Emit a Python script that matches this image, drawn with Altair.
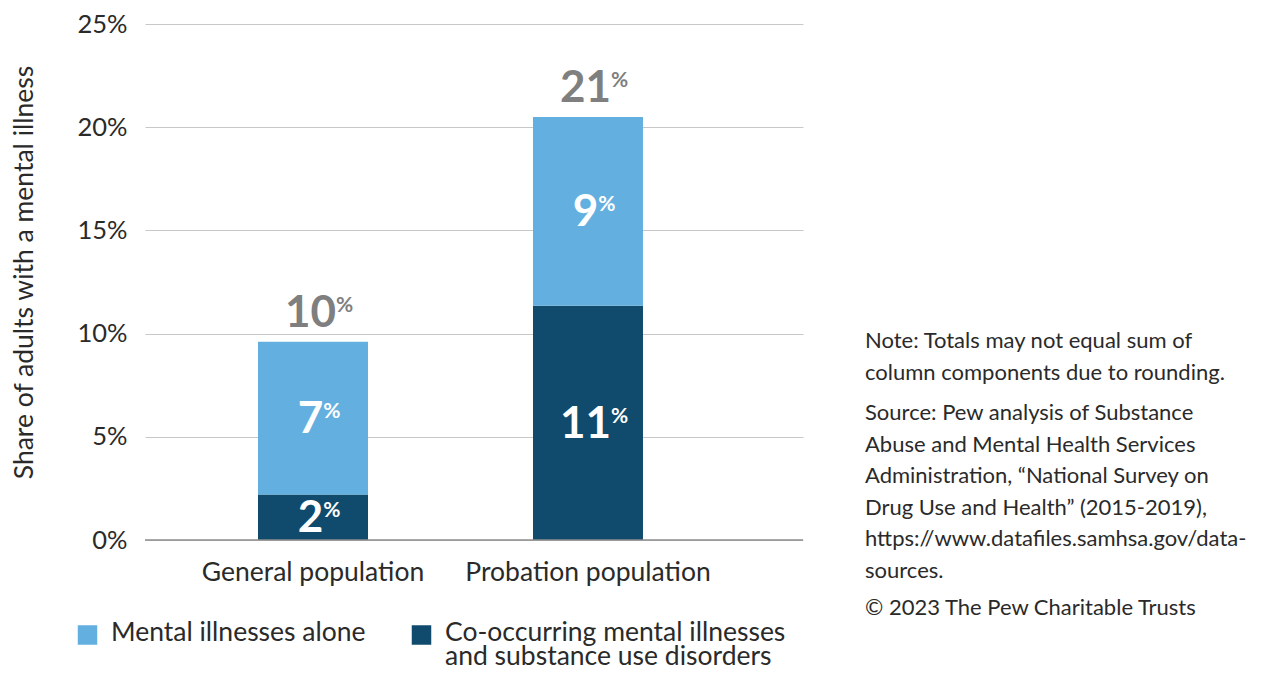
import altair as alt
import pandas as pd

# ---------------- data ----------------
categories = ["General population", "Probation population"]
series_names = ["Co-occurring mental illnesses and substance use disorders", "Mental illnesses alone"]
co_occurring = [2.2, 11.35]
alone_vals = [7.4, 9.15]
co_labels = ["2", "11"]
alone_labels = ["7", "9"]
total_labels = ["10", "21"]
series_colors = ["#104A6C", "#63AFE0"]
y_ticks = [0, 5, 10, 15, 20, 25]
y_title = "Share of adults with a mental illness"

legend_lines = [["Mental illnesses alone"],
                ["Co-occurring mental illnesses", "and substance use disorders"]]
note_par1 = ["Note: Totals may not equal sum of", "column components due to rounding."]
note_par2 = ["Source: Pew analysis of Substance", "Abuse and Mental Health Services",
             "Administration, \u201cNational Survey on", "Drug Use and Health\u201d (2015-2019),",
             "https://www.datafiles.samhsa.gov/data-", "sources."]
note_par3 = ["\u00a9 2023 The Pew Charitable Trusts"]

rows = []
for i, cat in enumerate(categories):
    rows.append({"category": cat, "series": series_names[0], "value": co_occurring[i],
                 "order": 0, "label": co_labels[i], "total_label": total_labels[i]})
    rows.append({"category": cat, "series": series_names[1], "value": alone_vals[i],
                 "order": 1, "label": alone_labels[i], "total_label": total_labels[i]})
df = pd.DataFrame(rows)

W, H = 658, 516
FONT = "Lato"
NUM_SIZE = 44
PCT_SIZE = 21
DIGIT_W = 0.58 * NUM_SIZE
PCT_W = 15

x_scale = alt.Scale(domain=categories, paddingInner=0.6, paddingOuter=0.4964, align=0.4139)
y_scale = alt.Scale(domain=[0, 25], nice=False)


def xenc():
    return alt.X("category:N", sort=categories, scale=x_scale, title=None)


def yenc(field):
    return alt.Y(field, scale=y_scale, title=y_title,
                 axis=alt.Axis(values=y_ticks, labelExpr="datum.value + '%'"))


base = alt.Chart(df)

bars = base.mark_bar().encode(
    x=xenc(),
    y=alt.Y("value:Q", stack="zero", scale=y_scale, title=y_title,
            axis=alt.Axis(values=y_ticks, labelExpr="datum.value + '%'")),
    color=alt.Color("series:N", scale=alt.Scale(domain=series_names, range=series_colors), legend=None),
    order=alt.Order("order:Q"),
)

baseline = alt.Chart(pd.DataFrame({"v": [0]})).mark_rule(color="#8c8c8c", strokeWidth=1.3).encode(
    y=alt.Y("v:Q", scale=y_scale, title=y_title,
            axis=alt.Axis(values=y_ticks, labelExpr="datum.value + '%'")),
    x=alt.value(0), x2=alt.value(W),
)

stacked = base.transform_stack(
    stack="value", groupby=["category"], as_=["y0", "y1"], sort=[alt.SortField("order")]
).transform_calculate(mid="(datum.y0 + datum.y1) / 2")

totals = base.transform_aggregate(
    total="sum(value)", groupby=["category", "total_label"]
)

layers = [bars, baseline]
for n in (1, 2):
    num_adv = DIGIT_W * n
    start = -(num_adv + PCT_W) / 2 + 5
    # segment labels (white)
    seg = stacked.transform_filter(f"length(datum.label) == {n}")
    layers.append(seg.mark_text(align="left", baseline="alphabetic", dx=start, dy=15,
                                font=FONT, fontWeight="bold", fontSize=NUM_SIZE, color="white").encode(
        x=xenc(), y=yenc("mid:Q"), text="label:N"))
    layers.append(seg.mark_text(align="left", baseline="alphabetic", dx=start + num_adv, dy=0,
                                font=FONT, fontWeight="bold", fontSize=PCT_SIZE, color="white", text="%").encode(
        x=xenc(), y=yenc("mid:Q")))
    # total labels (gray)
    tot = totals.transform_filter(f"length(datum.total_label) == {n}")
    layers.append(tot.mark_text(align="left", baseline="alphabetic", dx=start, dy=-15,
                                font=FONT, fontWeight="bold", fontSize=NUM_SIZE, color="#7f7f7f").encode(
        x=xenc(), y=yenc("total:Q"), text="total_label:N"))
    layers.append(tot.mark_text(align="left", baseline="alphabetic", dx=start + num_adv, dy=-30,
                                font=FONT, fontWeight="bold", fontSize=PCT_SIZE, color="#7f7f7f", text="%").encode(
        x=xenc(), y=yenc("total:Q")))

one = pd.DataFrame({"k": [0]})
# legend (manual)
leg_sq_x = [-57.5, 276.5]
leg_tx_x = [-34, 300]
legend_order = [1, 0]
for j, s_idx in enumerate(legend_order):
    layers.append(alt.Chart(one).mark_square(size=380, opacity=1, color=series_colors[s_idx]).encode(
        x=alt.value(leg_sq_x[j]), y=alt.value(611)))
    layers.append(alt.Chart(one).mark_text(text=legend_lines[j], align="left", baseline="alphabetic",
                                           font=FONT, fontSize=26.5, color="#2a2a2a", lineHeight=24).encode(
        x=alt.value(leg_tx_x[j]), y=alt.value(616.5)))

# notes
for lines, yy in ((note_par1, 324), (note_par2, 396), (note_par3, 591)):
    layers.append(alt.Chart(one).mark_text(text=lines, align="left", baseline="alphabetic",
                                           font=FONT, fontSize=22, color="#2a2a2a", lineHeight=31.5).encode(
        x=alt.value(720), y=alt.value(yy)))

chart = alt.layer(*layers).properties(
    width=W, height=H,
    autosize=alt.AutoSizeParams(type="none"),
    padding={"left": 137, "top": 16, "right": 453, "bottom": 125},
).configure_view(stroke=None).configure_axisY(
    grid=True, gridColor="#c8c8c8", gridWidth=1, domain=False, ticks=False,
    labelFont=FONT, labelFontSize=25.5, labelColor="#2a2a2a", labelPadding=18,
    titleFont=FONT, titleFontSize=26.5, titleFontWeight="normal", titleColor="#2a2a2a",
    titleX=-121, titleY=248, titleAngle=-90, titleAlign="center", titleBaseline="middle",
).configure_axisX(
    grid=False, domain=False, ticks=False,
    labelFont=FONT, labelFontSize=26.5, labelColor="#2a2a2a", labelPadding=19, labelAngle=0,
    labelLimit=500,
)

chart.save("out.html", embed_options={"renderer": "svg", "actions": False})
